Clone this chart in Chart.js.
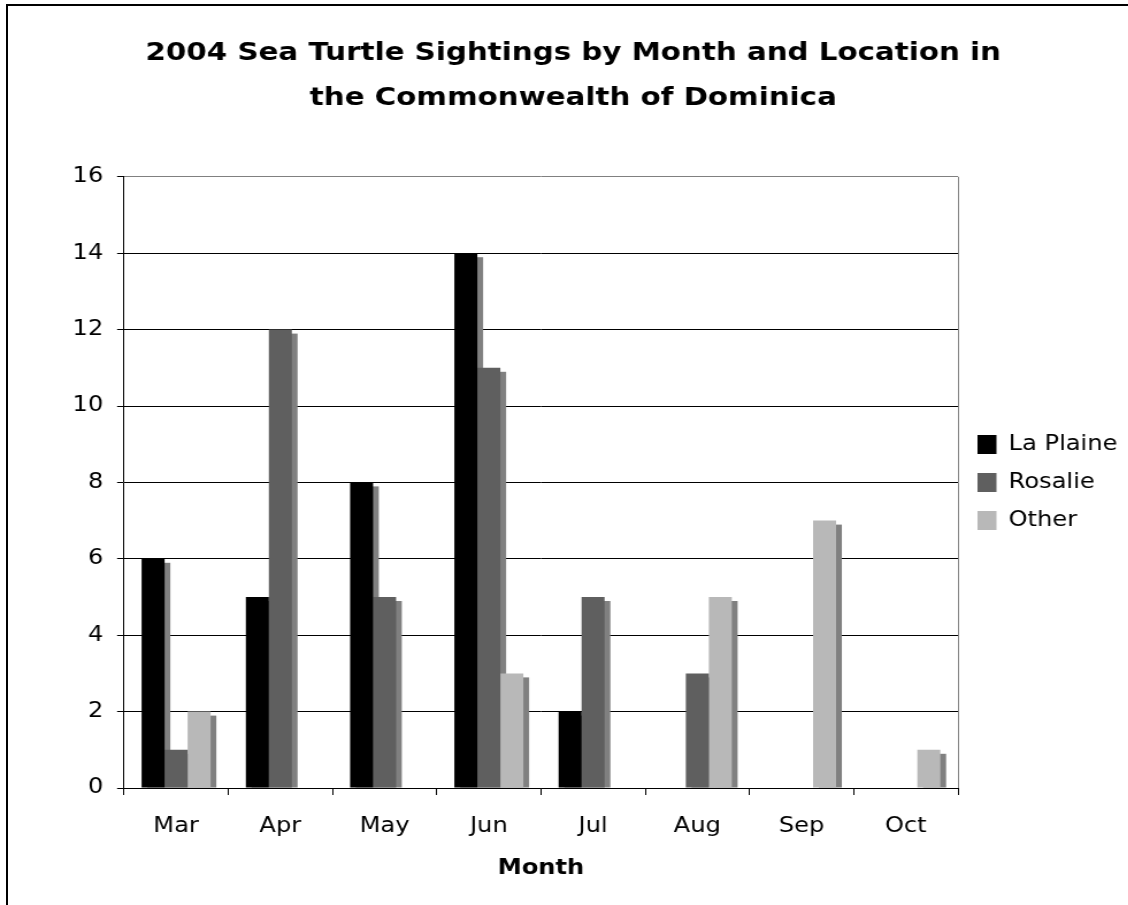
<!DOCTYPE html>
<html>
<head>
<meta charset="utf-8">
<script src="https://cdn.jsdelivr.net/npm/chart.js@4.4.1/dist/chart.umd.min.js"></script>
<style>
  html, body { margin: 0; padding: 0; background: #fff; overflow: hidden; }
  #frame { position: absolute; left: 6px; top: 4px; width: 2000px; height: 2000px;
           border-left: 2px solid #000; border-top: 2px solid #000; }
  /* the original picture is stretched sideways, so draw narrower and widen it */
  #wrap { position: absolute; left: 0; top: 0; width: 981px; height: 905px;
          transform: scaleX(1.15); transform-origin: 0 0; }
</style>
</head>
<body>
<div id="frame"></div>
<div id="wrap"><canvas id="turtleChart"></canvas></div>
<script>
// sightings per month, by beach
const months = ["Mar", "Apr", "May", "Jun", "Jul", "Aug", "Sep", "Oct"];
const laPlaine = [6, 5, 8, 14, 2, 0, 0, 0];
const rosalie = [1, 12, 5, 11, 5, 3, 0, 0];
const other = [2, 0, 0, 3, 0, 5, 7, 1];
const yTicks = [0, 2, 4, 6, 8, 10, 12, 14, 16];

const FONT = "'DejaVu Sans', Verdana, sans-serif";

// grey drop shadow behind every bar + grey right edge of the plot
const barShadow = {
  id: "barShadow",
  beforeDatasetsDraw(chart) {
    const { ctx, chartArea } = chart;
    ctx.save();
    ctx.strokeStyle = "#808080";
    ctx.lineWidth = 1;
    ctx.beginPath();
    ctx.moveTo(chartArea.right + 0.5, chartArea.top);
    ctx.lineTo(chartArea.right + 0.5, chartArea.bottom);
    ctx.stroke();

    ctx.beginPath();
    ctx.rect(chartArea.left, chartArea.top, chartArea.width, chartArea.height);
    ctx.clip();
    ctx.fillStyle = "#808080";
    chart.data.datasets.forEach((ds, i) => {
      chart.getDatasetMeta(i).data.forEach(bar => {
        const { x, y, base, width } = bar.getProps(["x", "y", "base", "width"], true);
        if (base - y < 1) return;
        ctx.fillRect(x - width / 2 + 5, y + 4, width, base - y - 4);
      });
    });
    ctx.restore();
  }
};

const ctx = document.getElementById("turtleChart").getContext("2d");
new Chart(ctx, {
  type: "bar",
  data: {
    labels: months,
    datasets: [
      { label: "La Plaine", data: laPlaine, backgroundColor: "#000000" },
      { label: "Rosalie", data: rosalie, backgroundColor: "#5f5f5f" },
      { label: "Other", data: other, backgroundColor: "#b8b8b8" }
    ]
  },
  options: {
    responsive: true,
    maintainAspectRatio: false,
    animation: false,
    datasets: {
      bar: { categoryPercentage: 0.662, barPercentage: 1.0, borderWidth: 0 }
    },
    layout: { padding: { left: 16, right: 0, top: 0, bottom: 0 } },
    plugins: {
      title: {
        display: true,
        text: ["2004 Sea Turtle Sightings by Month and Location in", "the Commonwealth of Dominica"],
        color: "#000",
        font: { family: FONT, size: 25.5, weight: "bold", lineHeight: 1.8 },
        padding: { top: 30, bottom: 55 }
      },
      legend: {
        position: "right",
        fullSize: false,
        maxWidth: 148,
        labels: {
          color: "#000",
          font: { family: FONT, size: 21 },
          boxWidth: 16.5,
          boxHeight: 19,
          padding: 17
        }
      },
      tooltip: { enabled: false }
    },
    scales: {
      x: {
        grid: { drawOnChartArea: false, color: "#000", tickLength: 7, offset: true },
        border: { color: "#000", width: 1 },
        ticks: { color: "#000", font: { family: FONT, size: 21 }, padding: 19, maxRotation: 0 },
        title: {
          display: true,
          text: "Month",
          color: "#000",
          font: { family: FONT, size: 21, weight: "bold" },
          padding: { top: 10, bottom: 24 }
        },
        afterFit: scale => { scale.height = 117; }
      },
      y: {
        min: 0,
        max: 16,
        afterBuildTicks: scale => { scale.ticks = yTicks.map(v => ({ value: v })); },
        grid: {
          color: c => (c.tick && c.tick.value === 16 ? "#808080" : "#000"),
          tickColor: "#000",
          tickLength: 6
        },
        border: { color: "#000", width: 1 },
        ticks: { color: "#000", font: { family: FONT, size: 21 }, padding: 12 },
        afterFit: scale => { scale.width = 91.8; }
      }
    }
  },
  plugins: [barShadow]
});
</script>
</body>
</html>
